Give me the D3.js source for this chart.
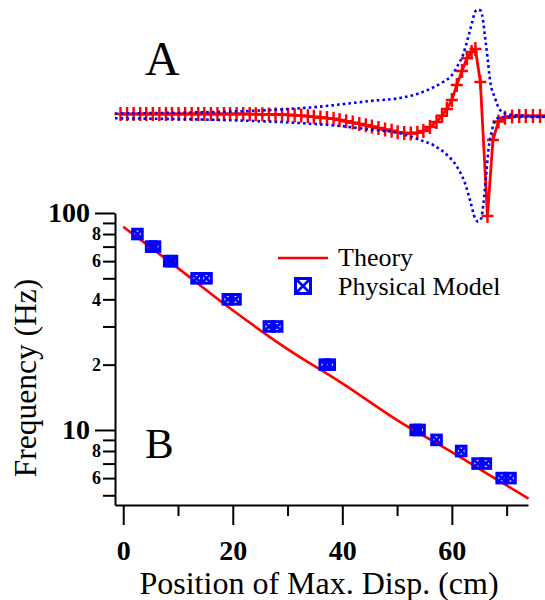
<!DOCTYPE html>
<html><head><meta charset="utf-8">
<script src="https://cdn.jsdelivr.net/npm/d3@7"></script>
<style>body{margin:0;background:#fff}svg{display:block}</style>
</head><body><svg id="c" width="545" height="600"></svg>
<script>
// ---- Panel B data ----
const theoryX = [0, 10, 20, 30, 40, 50, 60, 70, 74];
const theoryF = [86.5, 55.7, 35.6, 23.6, 16.4, 11.1, 7.9, 5.55, 4.83];
const modelX = [2.6, 5.1, 5.8, 8.4, 8.9, 13.4, 15.2, 19.1, 20.5, 26.6, 28.1, 36.8, 37.7, 53.4, 54.1, 57.2, 61.7, 64.7, 66.2, 69.1, 70.7];
const modelF = [80, 70, 70, 60, 60, 50, 50, 40, 40, 30, 30, 20, 20, 10, 10, 9, 8, 7, 7, 6, 6];
const xMajorTicks = [0, 20, 40, 60];
const xMinorTicks = [10, 30, 50, 70];
const yMajorTicks = [100, 10];
const yMajorLabels = ["100", "10"];
const yMinorTicks = [90, 80, 70, 60, 50, 40, 30, 20, 9, 8, 7, 6, 5];
const yMinorLabels = ["", "8", "", "6", "", "4", "", "2", "", "8", "", "6", ""];
const legendLabels = ["Theory", "Physical Model"];

// ---- Panel A data (position in cm, displacement in arbitrary units) ----
const waveX = [-0.5, 0.7, 1.9, 3.1, 4.2, 5.4, 6.6, 7.8, 8.9, 10.1, 11.3, 12.5, 13.7, 14.8, 16.0, 17.2, 18.4, 19.5, 20.7, 21.9,
  23.1, 24.2, 25.4, 26.6, 27.8, 29.0, 30.1, 31.3, 32.5, 33.7, 34.8, 36.0, 37.2, 38.4, 39.5, 40.7, 41.9, 43.1, 44.3, 45.4,
  46.6, 47.8, 49.0, 50.1, 51.3, 52.5, 53.7, 54.8, 56.0, 57.2,
  58.2, 59.1, 60.0, 60.9, 61.85, 62.75, 63.6, 64.3, 65.2, 66.5, 67.5, 68.5, 69.7, 71.0, 72.3, 73.5, 74.8, 76.1, 77.2];
const waveD = [0.1, 0.1, 0.1, 0.1, 0.1, 0.1, 0.1, 0.1, 0.1, 0.1, 0.1, 0.1, 0.1, 0.1, 0.1, 0.1, 0.1, 0.1, 0.1, 0.1,
  0.09, 0.08, 0.07, 0.06, 0.05, 0.03, 0.01, -0.02, -0.06, -0.12, -0.18, -0.25, -0.31, -0.38, -0.5, -0.63, -0.76, -0.89, -1.02, -1.15,
  -1.3, -1.45, -1.58, -1.72, -1.8, -1.85, -1.78, -1.6, -1.2, -0.7,
  -0.07, 0.6, 1.5, 3.0, 4.4, 5.67, 6.3, 6.6, 3.3, -10.1, -2.5, -0.65, -0.28, -0.15, -0.1, -0.1, -0.1, -0.1, -0.1];
const upperX = [-1.5, 6.72, 14.02, 21.32, 28.62, 34.1, 39.58, 45.05, 50.53, 54.18, 56.56, 58.38, 60.03, 61.12, 62.03, 62.94,
  63.67, 64.22, 64.77, 65.32, 65.68, 66.05, 66.5, 66.96, 67.87, 68.79, 70.06, 72.44, 77.0];
const upperD = [0.15, 0.2, 0.27, 0.37, 0.55, 0.75, 1.05, 1.4, 1.7, 2.2, 2.75, 3.3, 4.0, 5.0, 6.0, 7.7,
  9.2, 10.3, 10.55, 10.4, 9.5, 7.8, 5.8, 3.5, 1.7, 0.5, 0.1, -0.05, -0.15];
const lowerX = [-1.5, 6.72, 14.02, 21.32, 28.62, 34.1, 39.58, 45.05, 50.53, 54.18, 56.56, 59.12, 60.94, 62.4, 63.31, 64.22,
  64.77, 65.32, 65.77, 66.23, 66.68, 67.32, 68.42, 70.06, 77.0];
const lowerD = [-0.33, -0.38, -0.45, -0.55, -0.7, -0.87, -1.1, -1.45, -1.83, -2.5, -3.0, -4.0, -5.17, -6.83, -8.5, -10.3,
  -10.65, -10.4, -8.8, -6.2, -3.5, -1.5, -0.3, -0.2, -0.2];

const BLUE = "#0000ff", RED = "#ff0000";
const SERIF = '"Liberation Serif", "Times New Roman", Times, serif';
const svg = d3.select("#c").style("font-family", SERIF);
const x = d3.scaleLinear().domain([-1.5, 73.9]).range([115, 528]);
const y = d3.scaleLog().domain([4.51, 100]).range([505, 213]);
const yA = d3.scaleLinear().domain([-10, 10]).range([215, 15]);

function label(px, py, size, str, anchor, weight, transform) {
  const t = svg.append("text").style("font-family", SERIF).attr("font-size", size).attr("fill", "#000").text(str);
  if (transform) t.attr("transform", transform); else t.attr("x", px).attr("y", py);
  if (anchor) t.attr("text-anchor", anchor);
  if (weight) t.attr("font-weight", weight);
  return t;
}

// ---- Panel A ----
const wave = waveX.map((v, i) => [v, waveD[i]]);
const lineA = d3.line().x(d => x(d[0])).y(d => yA(d[1]));
svg.append("path").attr("d", lineA(wave)).attr("fill", "none").attr("stroke", RED).attr("stroke-width", 2.8);
svg.append("g").selectAll("path").data(wave).join("path")
  .attr("transform", d => `translate(${x(d[0])},${yA(d[1])})`)
  .attr("d", "M-6,0H6M0,-7V7").attr("stroke", RED).attr("stroke-width", 2.4).attr("fill", "none");
const envLine = d3.line().x(d => x(d[0])).y(d => yA(d[1])).curve(d3.curveMonotoneX);
[[upperX, upperD], [lowerX, lowerD]].forEach(([xs, ds]) => {
  svg.append("path").attr("d", envLine(xs.map((v, i) => [v, ds[i]])))
    .attr("fill", "none").attr("stroke", BLUE).attr("stroke-width", 2.6).attr("stroke-dasharray", "2.6,3.1");
});
label(145, 75, 48, "A");

// ---- Panel B axes ----
function styleAxis(g, size, weight) {
  g.attr("font-family", null).attr("font-size", null);
  g.selectAll("path,line").attr("stroke", "#000").attr("stroke-width", 2);
  g.selectAll("text").style("font-family", SERIF).attr("font-size", size).attr("font-weight", weight).attr("fill", "#000");
}
const gx = svg.append("g").attr("transform", "translate(0,505)");
gx.call(d3.axisBottom(x).tickValues(xMajorTicks).tickSize(20).tickSizeOuter(0).tickPadding(15).tickFormat(d3.format("d")));
styleAxis(gx, 28, "bold");
const gx2 = svg.append("g").attr("transform", "translate(0,505)");
gx2.call(d3.axisBottom(x).tickValues(xMinorTicks).tickSize(11).tickFormat(""));
styleAxis(gx2, 28, "bold"); gx2.select(".domain").remove();

const gy = svg.append("g").attr("transform", "translate(115,0)");
gy.call(d3.axisLeft(y).tickValues(yMajorTicks).tickSize(20).tickSizeOuter(0).tickPadding(5)
  .tickFormat((d, i) => yMajorLabels[i]));
styleAxis(gy, 28, "bold");
const gy2 = svg.append("g").attr("transform", "translate(115,0)");
gy2.call(d3.axisLeft(y).tickValues(yMinorTicks).tickSize(12).tickPadding(2).tickFormat((d, i) => yMinorLabels[i]));
styleAxis(gy2, 18, "bold"); gy2.select(".domain").remove();

label(319, 594, 32, "Position of Max. Disp. (cm)", "middle");
label(0, 0, 31.5, "Frequency (Hz)", "middle", null, "translate(36,378) rotate(-90)");

// ---- Panel B marks ----
const lineB = d3.line().x(d => x(d[0])).y(d => y(d[1])).curve(d3.curveMonotoneX);
svg.append("path").attr("d", lineB(theoryX.map((v, i) => [v, theoryF[i]])))
  .attr("fill", "none").attr("stroke", RED).attr("stroke-width", 2.6);

function marker(g, s, w) {
  g.append("rect").attr("x", -s).attr("y", -s).attr("width", 2 * s).attr("height", 2 * s)
    .attr("fill", "none").attr("stroke", BLUE).attr("stroke-width", w);
  g.append("path").attr("d", `M${-s},${-s}L${s},${s}M${-s},${s}L${s},${-s}`)
    .attr("stroke", BLUE).attr("stroke-width", w * 0.9).attr("fill", "none");
}
svg.append("g").selectAll("g").data(modelX.map((v, i) => [v, modelF[i]])).join("g")
  .attr("transform", d => `translate(${x(d[0])},${y(d[1])})`)
  .each(function () { marker(d3.select(this), 4.8, 3); });

label(145, 458, 43, "B");

// ---- Legend ----
svg.append("line").attr("x1", 278).attr("x2", 328).attr("y1", 258).attr("y2", 258).attr("stroke", RED).attr("stroke-width", 2.6);
label(338, 266, 26, legendLabels[0]);
marker(svg.append("g").attr("transform", "translate(303,286)"), 7.5, 3);
label(338, 295, 26, legendLabels[1]);
</script></body></html>
